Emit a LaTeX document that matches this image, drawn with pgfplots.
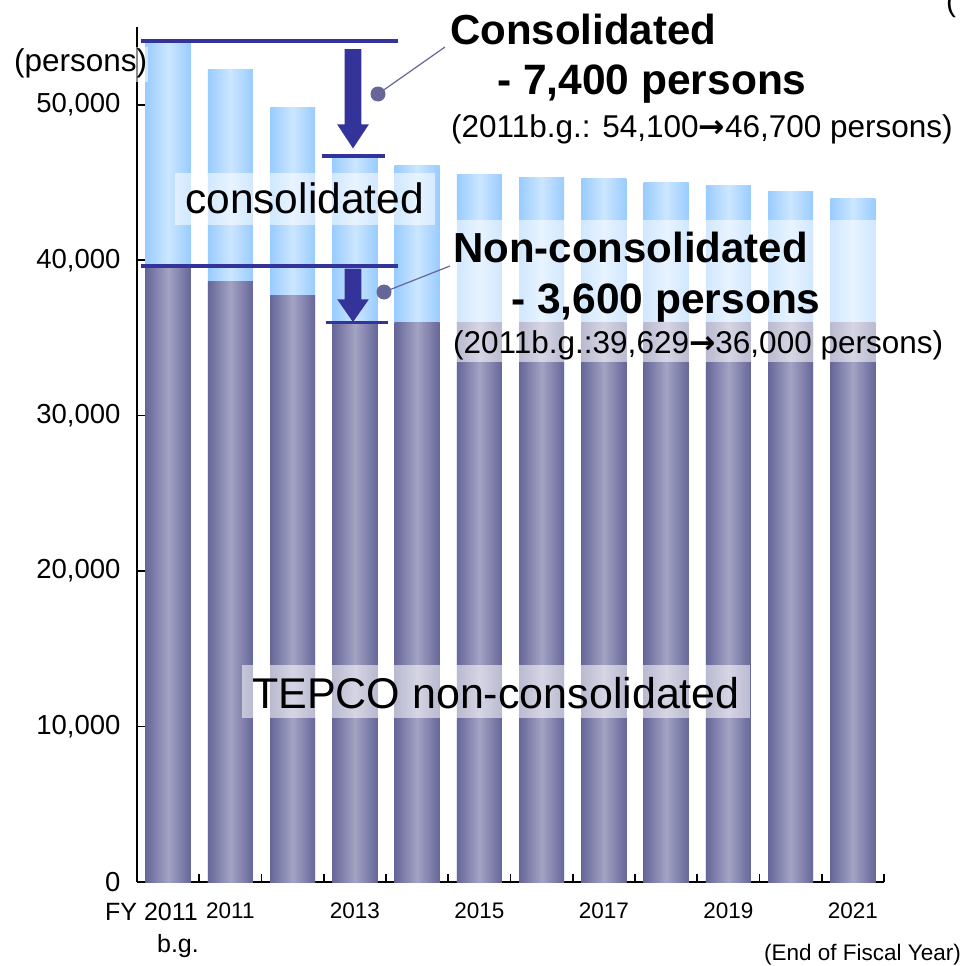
\documentclass[border=0pt]{standalone}
\usepackage{fontspec}
\setmainfont{Liberation Sans}
\newfontfamily\arrowfont{DejaVu Sans}
\usepackage{pgfplots}
\pgfplotsset{compat=1.18}
\definecolor{lb1}{HTML}{99CCFF}
\definecolor{lb2}{HTML}{CCE6FF}
\definecolor{db1}{HTML}{666699}
\definecolor{db2}{HTML}{A3A3C4}
\definecolor{navy}{HTML}{333399}
\definecolor{callout}{HTML}{666699}
\newcommand{\fs}[1]{\fontsize{#1}{#1}\selectfont}
\newcommand{\arr}{{\arrowfont\bfseries →}}
\pgfplotsset{
  lightbar/.style={ybar, bar width=0.723, bar shift=0pt, draw=none, left color=lb1, right color=lb1, middle color=lb2},
  darkbar/.style={ybar, bar width=0.723, bar shift=0pt, draw=none, left color=db1, right color=db1, middle color=db2},
}
% one pair of bars: position, consolidated total, TEPCO non-consolidated
\newcommand{\barpair}[3]{%
  \addplot[lightbar] coordinates {(#1,#2)};
  \addplot[darkbar] coordinates {(#1,#3)};}
\begin{document}
\begin{tikzpicture}
\useasboundingbox (0,0) rectangle (969pt,-966pt);
\begin{axis}[
  at={(137pt,-882pt)}, anchor=south west,
  width=747pt, height=855pt, scale only axis,
  xmin=-0.5, xmax=11.5, ymin=0, ymax=55000,
  axis x line=bottom, axis y line=left,
  axis line style={-, line width=1.6pt, black},
  xtick={0.5,1.5,2.5,3.5,4.5,5.5,6.5,7.5,8.5,9.5,10.5,11.5},
  xticklabels={},
  extra x ticks={1,3,5,7,9,11},
  extra x tick labels={2011,2013,2015,2017,2019,2021},
  extra x tick style={major tick length=0pt},
  ytick={0,10000,20000,30000,40000,50000},
  tick align=inside, major tick length=8pt,
  tick style={line width=1.6pt, black},
  scaled y ticks=false,
  /pgf/number format/assume math mode=true,
  yticklabel style={font=\fs{27.5}, /pgf/number format/1000 sep={,}, xshift=-13pt},
  xticklabel style={font=\fs{22.5}, yshift=-17pt},
  clip=false,
]
\barpair{0}{54100}{39629}
\barpair{1}{52250}{38600}
\barpair{2}{49800}{37700}
\barpair{3}{46700}{36000}
\barpair{4}{46100}{36000}
\barpair{5}{45500}{36000}
\barpair{6}{45350}{36000}
\barpair{7}{45230}{36000}
\barpair{8}{44970}{36000}
\barpair{9}{44780}{36000}
\barpair{10}{44400}{36000}
\barpair{11}{43950}{36000}
% reference lines
\draw[navy, line width=4pt] (axis cs:-0.44,54100) -- (axis cs:3.69,54100);
\draw[navy, line width=3.5pt] (axis cs:2.47,46700) -- (axis cs:3.48,46700);
\draw[navy, line width=4pt] (axis cs:-0.44,39629) -- (axis cs:3.69,39629);
\draw[navy, line width=3.5pt] (axis cs:2.53,36000) -- (axis cs:3.54,36000);
% arrows
\fill[navy] (axis cs:2.836,53570) -- (axis cs:3.104,53570) -- (axis cs:3.104,48730) -- (axis cs:3.224,48730)
  -- (axis cs:2.97,47190) -- (axis cs:2.716,48730) -- (axis cs:2.836,48730) -- cycle;
\fill[navy] (axis cs:2.836,39460) -- (axis cs:3.104,39460) -- (axis cs:3.104,37480) -- (axis cs:3.224,37480)
  -- (axis cs:2.97,36020) -- (axis cs:2.716,37480) -- (axis cs:2.836,37480) -- cycle;
\end{axis}
% translucent label boxes
\fill[white, fill opacity=0.55] (15pt,-47pt) rectangle (148pt,-82pt);
\fill[white, fill opacity=0.55] (175pt,-173pt) rectangle (435pt,-225pt);
\fill[white, fill opacity=0.55] (242pt,-665pt) rectangle (750pt,-718pt);
\fill[white, fill opacity=0.55] (452pt,-220pt) rectangle (965pt,-362pt);
% callouts
\draw[callout, line width=1.2pt] (378pt,-94pt) -- (445pt,-47pt);
\fill[callout] (378pt,-94pt) circle (7.5pt);
\draw[callout, line width=1.2pt] (384pt,-292pt) -- (450pt,-266pt);
\fill[callout] (384pt,-292pt) circle (7.5pt);
% texts
\begin{scope}[every node/.style={anchor=base west, inner sep=0pt}]
\node[font=\fs{31.5}] at (14pt,-72pt) {(persons)};
\node[font=\fs{42.5}] at (185pt,-213pt) {consolidated};
\node[font=\fs{43}] at (252pt,-708pt) {TEPCO non-consolidated};
\node[font=\bfseries\fs{42}] at (450pt,-45pt) {Consolidated};
\node[font=\bfseries\fs{42.5}] at (497pt,-95pt) {- 7,400 persons};
\node[font=\fs{31.5}] at (451pt,-137pt) {(2011b.g.: 54,100\arr46,700 persons)};
\node[font=\bfseries\fs{42}] at (453pt,-262pt) {Non-consolidated};
\node[font=\bfseries\fs{42.5}] at (511pt,-313pt) {- 3,600 persons};
\node[font=\fs{31.5}] at (453pt,-353pt) {(2011b.g.:39,629\arr36,000 persons)};
\node[font=\fs{22.5}] at (764pt,-960pt) {(End of Fiscal Year)};
\node[font=\fs{30}] at (946pt,-12pt) {(};
\end{scope}
\node[anchor=base east, inner sep=0pt, font=\fs{25}] at (198pt,-920pt) {FY 2011};
\node[anchor=base east, inner sep=0pt, font=\fs{25}] at (199pt,-952pt) {b.g.};
\end{tikzpicture}
\end{document}
